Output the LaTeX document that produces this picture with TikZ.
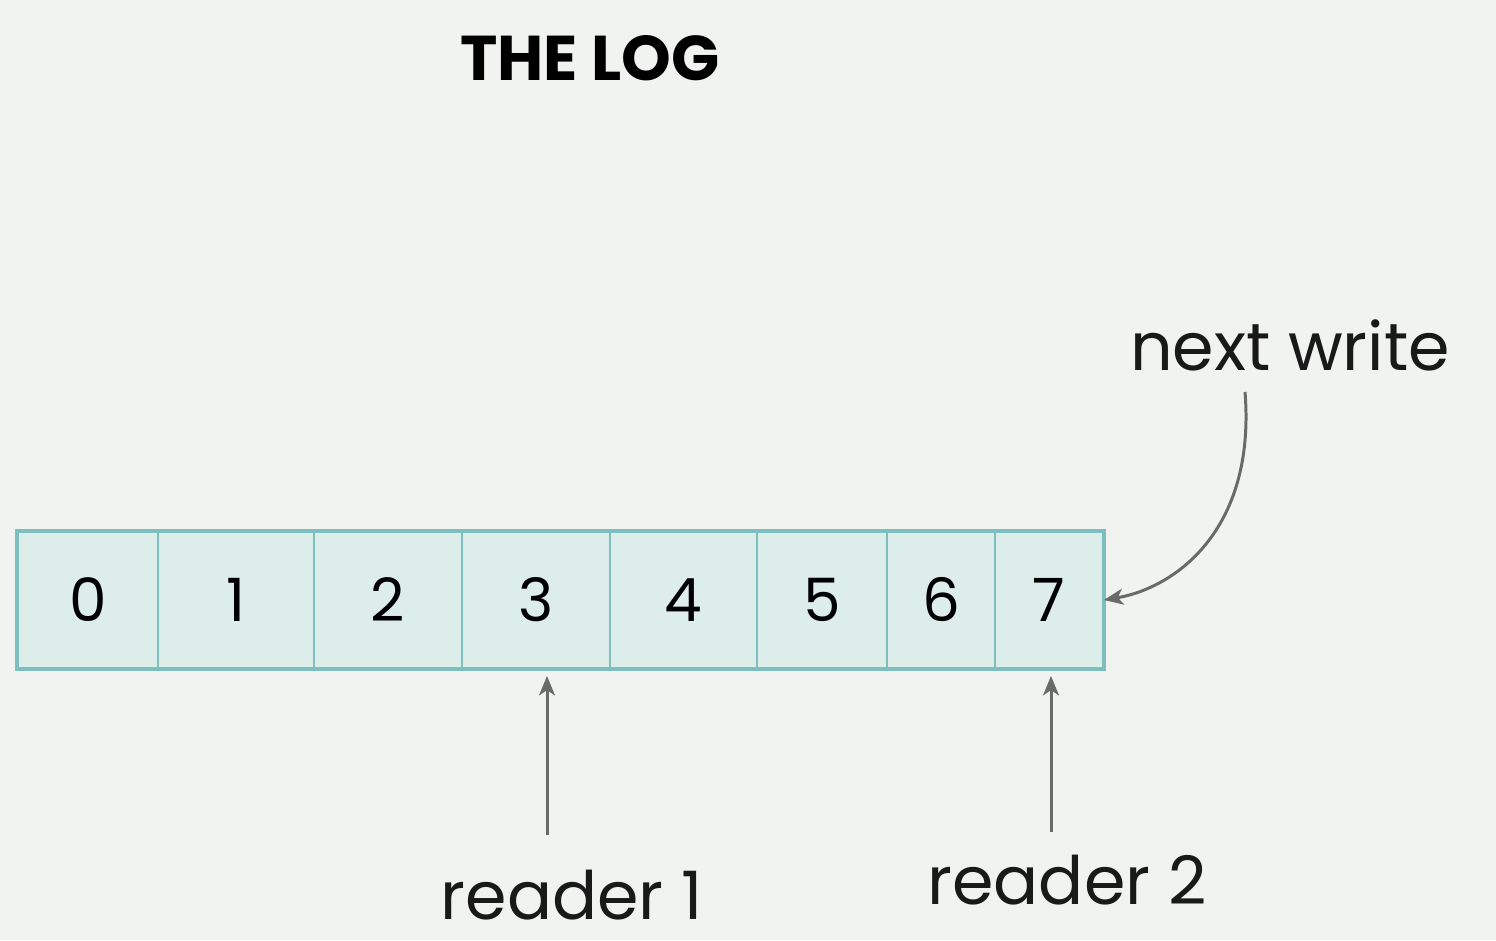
\documentclass[tikz,border=0pt]{standalone}
\usepackage{fontspec}
\setmainfont{Poppins}
\usetikzlibrary{arrows.meta}
\definecolor{bg}{HTML}{F1F3F0}
\definecolor{cellfill}{HTML}{DCEDEA}
\definecolor{cellline}{HTML}{7CBFBE}
\definecolor{arrgray}{HTML}{6A6A6A}
\begin{document}
\begin{tikzpicture}[x=0.02cm,y=-0.02cm,
  cell/.style={draw=cellline, line width=1pt, fill=cellfill, rectangle, minimum height=2.72cm, inner sep=0pt, font=\fontsize{34}{38}\selectfont},
  lbl/.style={inner sep=0pt, font=\fontsize{38}{44}\selectfont, text=black!90},
  title/.style={inner sep=0pt, font=\fontsize{36}{40}\selectfont\bfseries},
  arr/.style={draw=arrgray, line width=1.7pt, -{Stealth[length=11pt,width=9pt,inset=3pt]}}]
\fill[bg] (0,0) rectangle (1496,940);
\useasboundingbox (0,0) rectangle (1496,940);
\node[title] (t) at (590,58) {THE LOG};
\node[cell, minimum width=2.80cm] (c0) at (88,600) {0};
\node[cell, minimum width=3.12cm] (c1) at (236,600) {1};
\node[cell, minimum width=2.96cm] (c2) at (388,600) {2};
\node[cell, minimum width=2.96cm] (c3) at (536,600) {3};
\node[cell, minimum width=2.94cm] (c4) at (683.5,600) {4};
\node[cell, minimum width=2.60cm] (c5) at (822,600) {5};
\node[cell, minimum width=2.16cm] (c6) at (941,600) {6};
\node[cell, minimum width=2.16cm] (c7) at (1049,600) {7};
\draw[cellline, line width=2.2pt] (c0.north west) rectangle (c7.south east);
\node[lbl] (nw) at (1290,345) {next write};
\node[lbl] (r1) at (572,895) {reader 1};
\node[lbl] (r2) at (1067,880) {reader 2};
\coordinate (s1) at (547,835);
\coordinate (e1) at (547,676);
\coordinate (s2) at (1051,832);
\coordinate (e2) at (1051,676);
\coordinate (s3) at (1245,392);
\draw[arr] (s1) -- (e1);
\draw[arr] (s2) -- (e2);
\draw[arr] (s3) .. controls (1256,530) and (1175,588) .. (c7.east);
\end{tikzpicture}
\end{document}
